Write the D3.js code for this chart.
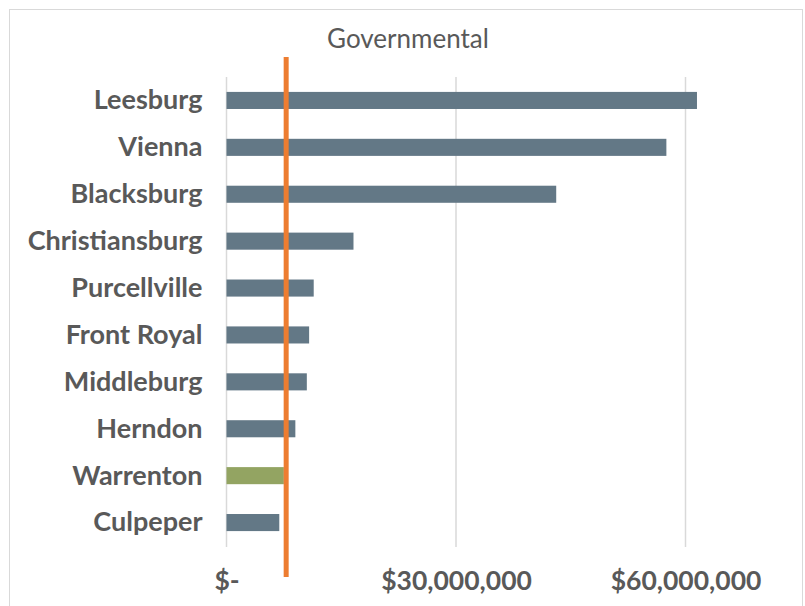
<!DOCTYPE html>
<html>
<head>
<meta charset="utf-8">
<script src="https://cdn.jsdelivr.net/npm/d3@7"></script>
<style>
body{margin:0;background:#fff;}
text{font-family:Lato, "Open Sans", sans-serif;}
</style>
</head>
<body>
<script>
// data
var miasta=["Leesburg","Vienna","Blacksburg","Christiansburg","Purcellville","Front Royal","Middleburg","Herndon","Warrenton","Culpeper"];
var wartosci=[61500000,57500000,43100000,16600000,11400000,10800000,10500000,9000000,7500000,6900000];
var wyroznione="Warrenton";
var srednia=7800000;
var ticki=[0,30000000,60000000];
var tickEtykiety=["$-","$30,000,000","$60,000,000"];

var svg=d3.select("body").append("svg")
	.attr("width",805)
	.attr("height",606);

//ramka
svg.append("rect")
	.attr("x",9.5).attr("y",9.5)
	.attr("width",793).attr("height",610)
	.style("fill","white")
	.style("stroke","#d9d9d9");

svg.append("text")
	.attr("x",408).attr("y",48)
	.attr("text-anchor","middle")
	.style("font-size","26px")
	.style("fill","#595959")
	.text("Governmental");

var x=d3.scaleLinear().domain([0,70000000]).range([226.5,762]);
var y=d3.scaleBand().domain(miasta).range([77,546]).paddingInner(0.636).paddingOuter(0.318);

//siatka
svg.append("g").selectAll("line")
	.data(ticki)
	.enter().append("line")
	.attr("x1",function(d){return x(d)})
	.attr("x2",function(d){return x(d)})
	.attr("y1",77).attr("y2",547)
	.style("stroke","#d9d9d9")
	.style("stroke-width",1.5);

//slupki
svg.append("g").selectAll("rect")
	.data(miasta)
	.enter().append("rect")
	.attr("x",x(0))
	.attr("y",function(d){return y(d)})
	.attr("height",y.bandwidth())
	.attr("width",function(d,i){return x(wartosci[i])-x(0)})
	.style("fill",function(d){return d==wyroznione?"#93a462":"#637886"});

//etykiety kategorii
var osY=svg.append("g")
	.attr("transform","translate(202.5,0)")
	.call(d3.axisLeft(y).tickSize(0).tickPadding(0));
osY.select(".domain").remove();
osY.selectAll("text")
	.style("font-size","27px")
	.style("font-weight","bold")
	.style("fill","#595959")
	.attr("dy","0.33em");

//os X
var osX=svg.append("g")
	.attr("transform","translate(0,590)")
	.call(d3.axisBottom(x).tickValues(ticki).tickSize(0).tickPadding(0)
		.tickFormat(function(d,i){return tickEtykiety[i]}));
osX.select(".domain").remove();
osX.selectAll("text")
	.attr("dy","0")
	.style("font-size","26.5px")
	.style("font-weight","bold")
	.style("fill","#595959");

//linia sredniej
svg.append("line")
	.attr("x1",x(srednia)).attr("x2",x(srednia))
	.attr("y1",57).attr("y2",577)
	.style("stroke","#ed7d31")
	.style("stroke-width",5);
</script>
</body>
</html>
